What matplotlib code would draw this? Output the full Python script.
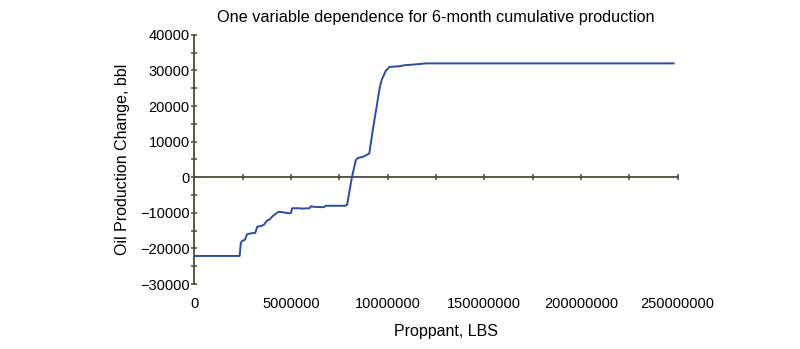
import numpy as np
import matplotlib
matplotlib.use('Agg')
from matplotlib import pyplot as plt

# proppant (LBS) and change in oil production (bbl)
proppant = [0, 2.34e6, 2.40e6, 2.45e6, 2.62e6, 2.72e6, 2.98e6, 3.15e6, 3.25e6, 3.50e6,
            3.62e6, 3.75e6, 3.90e6, 4.05e6, 4.15e6, 4.35e6, 4.55e6, 4.75e6, 4.90e6,
            5.00e6, 5.05e6, 5.45e6, 5.55e6, 5.95e6, 6.05e6, 6.15e6, 6.70e6, 6.80e6,
            7.80e6, 7.90e6, 8.15e6, 8.35e6, 8.45e6, 8.75e6, 9.05e6, 9.25e6, 9.60e6,
            9.70e6, 9.90e6, 10.1e6, 10.6e6, 10.9e6, 11.4e6, 12.0e6, 24.8e6]
change = [-22100, -22100, -18500, -18000, -17500, -16000, -15700, -15600, -13900, -13600,
          -13200, -12200, -11800, -10900, -10500, -9700, -9800, -10000, -10100,
          -10000, -8700, -8700, -8800, -8700, -8100, -8300, -8400, -8000,
          -8000, -7700, 0, 4800, 5400, 5800, 6700, 14000, 25500,
          27500, 29900, 31000, 31200, 31500, 31700, 32000, 32000]

x_ticks = np.arange(0, 25e6 + 1, 2.5e6)
x_label_ticks = x_ticks[::2]
x_tick_labels = ['0', '5000000', '10000000', '150000000', '200000000', '250000000']
y_ticks = np.arange(-30000, 40001, 10000)

axis_color = '#4a4a3c'
line_color = '#2b4ca6'

plt.rcParams['font.family'] = ['Liberation Sans', 'DejaVu Sans']
plt.rcParams['font.size'] = 10.5

fig = plt.figure(figsize=(8.0, 3.49), dpi=100)
ax = fig.add_axes([0.243, 0.186, 0.604, 0.714])

ax.plot(proppant, change, color=line_color, linewidth=1.4, zorder=3)

ax.set_xlim(0, 25e6)
ax.set_ylim(-30000, 40000)

# left spine = y axis, bottom spine moved to zero
for side in ['top', 'right']:
    ax.spines[side].set_visible(False)
ax.spines['left'].set_color(axis_color)
ax.spines['left'].set_linewidth(1.3)
ax.spines['bottom'].set_position(('data', 0))
ax.spines['bottom'].set_color(axis_color)
ax.spines['bottom'].set_linewidth(1.3)

ax.set_yticks(y_ticks)
ax.set_yticks(np.arange(-25000, 40000, 10000), minor=True)
ax.set_yticklabels([f'{v:d}'.replace('-', '\u2212') for v in y_ticks])
ax.tick_params(axis='y', which='both', direction='inout', length=5, width=1.1,
               color=axis_color, pad=1)

ax.set_xticks(x_ticks)
ax.set_xticklabels([])
ax.tick_params(axis='x', which='both', direction='inout', length=5, width=1.1,
               color=axis_color)

# tick labels along the bottom edge
sec = ax.secondary_xaxis(0)
sec.set_xticks(x_label_ticks)
sec.set_xticklabels(x_tick_labels)
sec.spines['bottom'].set_visible(False)
sec.tick_params(axis='x', length=0, pad=9)

ax.set_ylabel('Oil Production Change, bbl', fontsize=11.5, labelpad=7)
ax.set_title('One variable dependence for 6-month cumulative production',
             fontsize=11.7, pad=9)
fig.text(0.557, 0.051, 'Proppant, LBS', ha='center', va='center', fontsize=11.5)

fig.savefig('out.png', dpi=100)
